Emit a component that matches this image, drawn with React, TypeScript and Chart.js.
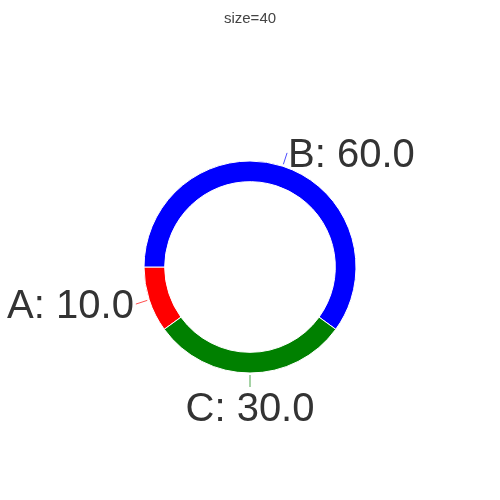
import React, { useEffect, useRef } from "react";
import { Chart, registerables } from "chart.js";

Chart.register(...registerables);

const categories = ["A", "B", "C"];
const values = [10, 60, 30];
const colors = ["#ff0000", "#0000ff", "#008000"];
const titleText = "size=40";

const labelPlugin = {
  id: "outerLabels",
  afterDraw(chart: any) {
    const ctx = chart.ctx;
    ctx.save();
    // title
    ctx.fillStyle = "#444";
    ctx.font = "15px 'Liberation Sans', Arial, sans-serif";
    ctx.textAlign = "center";
    ctx.textBaseline = "middle";
    ctx.fillText(titleText, 250, 19);

    const meta = chart.getDatasetMeta(0);
    meta.data.forEach((arc: any, i: number) => {
      const { x, y, startAngle, endAngle, outerRadius } = arc.getProps(
        ["x", "y", "startAngle", "endAngle", "outerRadius"],
        true
      );
      const mid = (startAngle + endAngle) / 2;
      const dx = Math.cos(mid);
      const dy = Math.sin(mid);
      const r1 = outerRadius + 2;
      const r2 = outerRadius + 14;
      const x1 = x + dx * r1;
      const y1 = y + dy * r1;
      const x2 = x + dx * r2;
      const y2 = y + dy * r2;
      ctx.strokeStyle = colors[i];
      ctx.globalAlpha = 0.7;
      ctx.lineWidth = 1;
      ctx.beginPath();
      ctx.moveTo(x1, y1);
      ctx.lineTo(x2, y2);
      ctx.stroke();
      ctx.globalAlpha = 1;

      const text = `${categories[i]}: ${values[i].toFixed(1)}`;
      ctx.font = "40px 'Liberation Sans', Arial, sans-serif";
      ctx.fillStyle = "#333";
      let tx = x2;
      let ty = y2 + 3;
      if (Math.abs(dx) > 0.25) {
        ctx.textAlign = dx > 0 ? "left" : "right";
        ctx.textBaseline = "middle";
        tx += dx > 0 ? 1 : -2;
      } else {
        ctx.textAlign = "center";
        ctx.textBaseline = dy > 0 ? "top" : "bottom";
      }
      ctx.fillText(text, tx, ty);
    });
    ctx.restore();
  },
};

export default function App() {
  const ref = useRef<HTMLCanvasElement | null>(null);
  useEffect(() => {
    if (!ref.current) return;
    const chart = new Chart(ref.current, {
      type: "doughnut",
      data: {
        labels: categories,
        datasets: [
          {
            data: values,
            backgroundColor: colors,
            borderColor: "#ffffff",
            borderWidth: 1,
          },
        ],
      },
      options: {
        animation: false,
        responsive: false,
        rotation: 234,
        radius: 106,
        cutout: "80.5%",
        layout: { padding: { top: 34, left: 0, right: 0, bottom: 0 } },
        plugins: {
          legend: { display: false },
          title: { display: false },
          tooltip: { enabled: false },
        },
      },
      plugins: [labelPlugin],
    });
    return () => chart.destroy();
  }, []);
  return (
    <div style={{ position: "fixed", left: 0, top: 0, width: 500, height: 500, background: "#fff" }}>
      <canvas ref={ref} width={500} height={500} style={{ width: 500, height: 500 }} />
    </div>
  );
}
